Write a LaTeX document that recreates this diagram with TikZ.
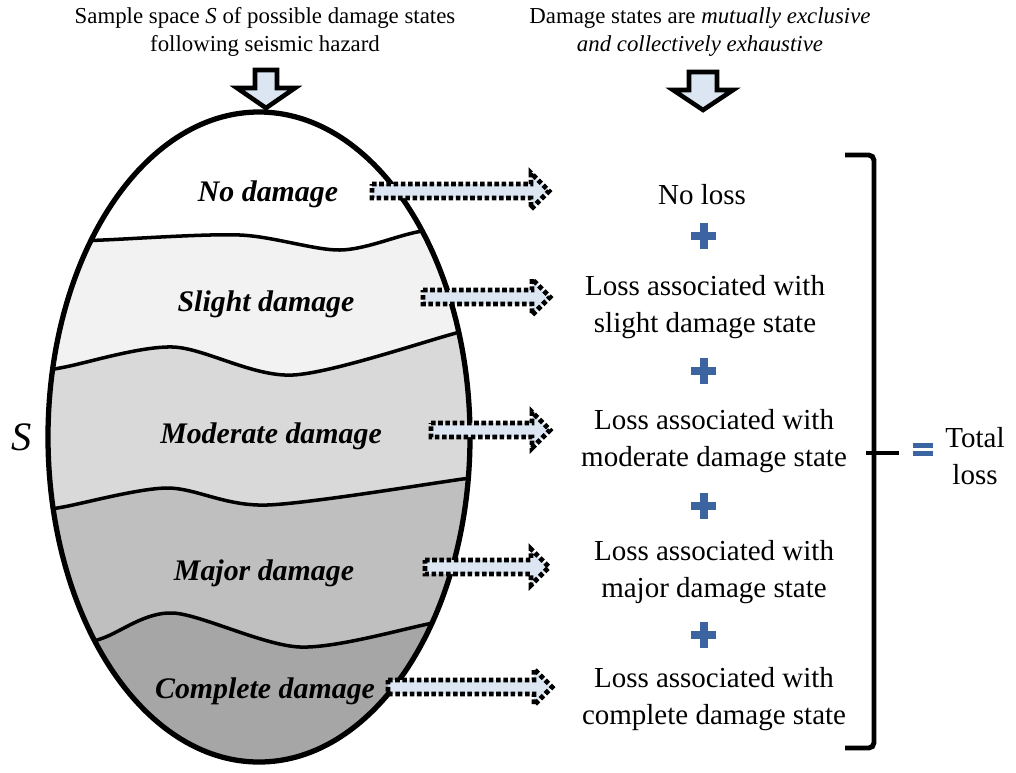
\documentclass[tikz,border=0pt]{standalone}
\usepackage{fontspec}
\setmainfont{Liberation Serif}
\usepackage{xcolor}
\usepackage{tikz}
\usetikzlibrary{calc}

\definecolor{arrowfill}{HTML}{DCE6F2}
\definecolor{plusblue}{HTML}{3B64A0}
\definecolor{slightgray}{HTML}{F2F2F2}
\definecolor{moderategray}{HTML}{D9D9D9}
\definecolor{majorgray}{HTML}{BFBFBF}
\definecolor{completegray}{HTML}{A6A6A6}

\tikzset{
  dmglabel/.style={font=\fontsize{17}{20}\selectfont\bfseries\itshape},
  losstext/.style={align=center,font=\fontsize{16.5}{21}\selectfont},
  toptext/.style={align=center,font=\fontsize{13}{16}\selectfont},
  harrow/.style={fill=arrowfill,draw=black,line width=2.8pt,dash pattern=on 2.6pt off 1.5pt},
  varrow/.style={fill=arrowfill,draw=black,line width=2.6pt},
  band/.style={draw=black,line width=2pt},
}

% block arrow pointing right: from x #1 to tip x #2 at height #3
\newcommand{\hblock}[3]{%
  \filldraw[harrow] (#1,#3-7) -- (#2-18,#3-7) -- (#2-18,#3-18) -- (#2,#3)
    -- (#2-18,#3+18) -- (#2-18,#3+7) -- (#1,#3+7) -- cycle;}

\begin{document}
\begin{tikzpicture}[x=0.02cm,y=-0.02cm]
\useasboundingbox (0,0) rectangle (1016,772);

% sample space
\fill[white] (259,437) ellipse [x radius=211, y radius=325];
\begin{scope}
\clip (259,437) ellipse [x radius=211, y radius=325];
\filldraw[band,fill=slightgray] plot[smooth] coordinates {(20,244) (103,240) (240,235) (340,250) (417,232) (500,218)} -- (500,790) -- (20,790) -- cycle;
\filldraw[band,fill=moderategray] plot[smooth] coordinates {(20,376) (65,367) (173,347) (293,375) (460,332) (500,324)} -- (500,790) -- (20,790) -- cycle;
\filldraw[band,fill=majorgray] plot[smooth] coordinates {(20,514) (63,507) (167,488) (267,505) (470,478) (500,475)} -- (500,790) -- (20,790) -- cycle;
\filldraw[band,fill=completegray] plot[smooth] coordinates {(40,660) (103,638) (173,613) (300,647) (433,623) (500,610)} -- (500,790) -- (20,790) -- cycle;
\end{scope}
\draw[line width=3pt] (259,437) ellipse [x radius=211, y radius=325];

\node[dmglabel] (nodmg) at (268,194) {No damage};
\node[dmglabel] (slight) at (266,304) {Slight damage};
\node[dmglabel] (moderate) at (271,436) {Moderate damage};
\node[dmglabel] (major) at (264,573) {Major damage};
\node[dmglabel] (complete) at (265,691) {Complete damage};

\node[font=\fontsize{23}{26}\selectfont\itshape] (S) at (22,437) {S};

% headings
\node[toptext] (space) at (265,32) {Sample space \textit{S} of possible damage states\\following seismic hazard};
\node[toptext] (excl) at (700,32) {Damage states are \textit{mutually exclusive}\\\textit{and collectively exhaustive}};
\filldraw[varrow] (255,70) -- (277,70) -- (277,88) -- (295,88) -- (266,108) -- (237,88) -- (255,88) -- cycle;
\filldraw[varrow] (689,72) -- (717,72) -- (717,90) -- (733,90) -- (703,110) -- (673,90) -- (689,90) -- cycle;

% arrows to losses
\hblock{372}{549}{191}
\hblock{423}{550}{297}
\hblock{431}{550}{430}
\hblock{425}{549}{567}
\hblock{388}{552}{687}

% losses
\node[losstext] (noloss) at (702,195) {No loss};
\node[losstext] (loss1) at (705,307) {Loss associated with\\slight damage state};
\node[losstext] (loss2) at (714,441) {Loss associated with\\moderate damage state};
\node[losstext] (loss3) at (714,572) {Loss associated with\\major damage state};
\node[losstext] (loss4) at (714,699) {Loss associated with\\complete damage state};

\foreach \py in {236,371,506,635}{
  \fill[plusblue] (691,\py-4) rectangle (716,\py+4);
  \fill[plusblue] (699.5,\py-13) rectangle (707.5,\py+13);
}

% total
\draw[line width=2.8pt,rounded corners=3] (845,155) -- (874,155) -- (874,748) -- (845,748);
\draw[line width=2.8pt,rounded corners=3] (866,453) -- (899,453);
\fill[plusblue] (913,443) rectangle (933,448);
\fill[plusblue] (913,451) rectangle (933,456);
\node[losstext] (total) at (975,456) {Total\\loss};
\end{tikzpicture}
\end{document}
